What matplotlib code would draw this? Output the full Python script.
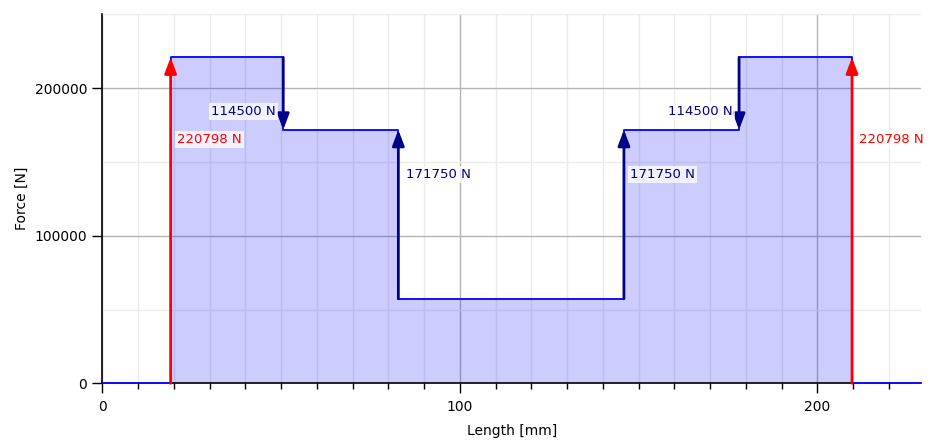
import matplotlib as mpl
import matplotlib.pyplot as plt
from matplotlib.ticker import MultipleLocator

mpl.use('Agg')

# Stufen des Kraftverlaufs
x_steps = [0, 19.1, 50.6, 82.8, 145.9, 178.1, 209.7, 229]
f_steps = [0, 220798, 171750, 57250, 171750, 220798, 0, 0]

# Pfeile: x, von, bis, Beschriftung
arrow_x = [19.1, 50.6, 82.8, 145.9, 178.1, 209.7]
arrow_from = [0, 220798, 57250, 57250, 220798, 0]
arrow_to = [220798, 171750, 171750, 171750, 171750, 220798]
arrow_text = ['220798 N', '114500 N', '171750 N', '171750 N', '114500 N', '220798 N']
arrow_kind = ['support', 'load', 'load', 'load', 'load', 'support']

# Position der Beschriftungen
text_x = [20.9, 48.6, 84.8, 147.6, 176.4, 211.6]
text_y = [164900, 183900, 141200, 141200, 183900, 164900]
text_ha = ['left', 'right', 'left', 'left', 'right', 'left']

fig = plt.figure(figsize=(9.38, 4.41), dpi=100)
ax = fig.add_axes([0.1091, 0.1308, 0.8728, 0.8368])

ax.set_xlim(0, 229)
ax.set_ylim(0, 250000)

ax.xaxis.set_major_locator(MultipleLocator(100))
ax.xaxis.set_minor_locator(MultipleLocator(10))
ax.yaxis.set_major_locator(MultipleLocator(100000))
ax.yaxis.set_minor_locator(MultipleLocator(50000))

ax.grid(which='major', color='#b4b4b4', lw=1)
ax.grid(which='minor', color='#ebebeb', lw=1)
ax.set_axisbelow(True)

ax.tick_params(axis='x', which='major', length=7, width=1, labelsize=10, pad=5)
ax.tick_params(axis='x', which='minor', length=4, width=1)
ax.tick_params(axis='y', which='major', length=7, width=1, labelsize=10, pad=4)
ax.tick_params(axis='y', which='minor', length=0)

for s in ['top', 'right']:
    ax.spines[s].set_visible(False)
for s in ['left', 'bottom']:
    ax.spines[s].set_color('black')
    ax.spines[s].set_linewidth(1.2)

ax.fill_between(x_steps, f_steps, step='post', color='blue', alpha=0.2, lw=0)
ax.step(x_steps, f_steps, where='post', color='#1010ff', lw=1.4, zorder=3)

for i in range(len(arrow_x)):
    c = 'red' if arrow_kind[i] == 'support' else '#00008b'
    ax.annotate('', xy=(arrow_x[i], arrow_to[i]), xytext=(arrow_x[i], arrow_from[i]),
                arrowprops=dict(arrowstyle='-|>,head_length=0.95,head_width=0.36',
                                color=c, lw=2, mutation_scale=10,
                                shrinkA=0, shrinkB=0), zorder=4)
    ax.text(text_x[i], text_y[i], arrow_text[i], color=c, fontsize=9.5,
            ha=text_ha[i], va='center', zorder=5, clip_on=False,
            bbox=dict(boxstyle='square,pad=0.15', fc='white', ec='none', alpha=0.75))

ax.set_xlabel('Length [mm]', fontsize=10, labelpad=7)
ax.set_ylabel('Force [N]', fontsize=10, labelpad=4)

fig.savefig('out.png', dpi=100)
